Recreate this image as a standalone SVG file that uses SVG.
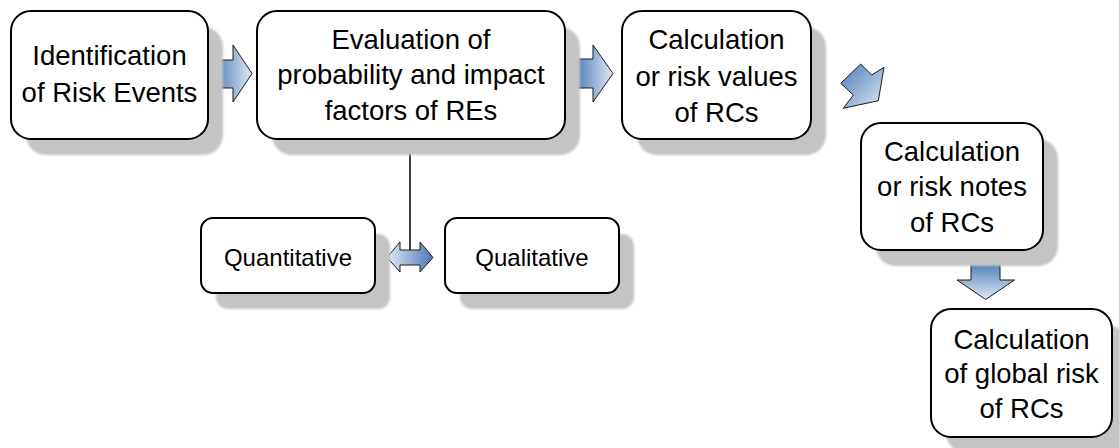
<svg xmlns="http://www.w3.org/2000/svg" width="1119" height="448" viewBox="0 0 1119 448">
<style>
.box{fill:#ffffff;stroke:#000000;stroke-width:2}
.sh{fill:#c4c4c4;filter:url(#blur)}
.t{font-family:"Liberation Sans",Arial,sans-serif;font-size:27.5px;fill:#000000;text-anchor:middle}
.ts{font-family:"Liberation Sans",Arial,sans-serif;font-size:24px;fill:#000000;text-anchor:middle}
.arr{stroke:#1a1a1a;stroke-width:1;stroke-linejoin:miter}
</style>
<defs>
<filter id="blur" x="-10%" y="-10%" width="120%" height="120%"><feGaussianBlur stdDeviation="1.2"/></filter>
<linearGradient id="gH" x1="0" y1="0" x2="1" y2="0"><stop offset="0" stop-color="#4a7ab8"/><stop offset="1" stop-color="#e0e9f4"/></linearGradient>
<linearGradient id="gV" x1="0" y1="0" x2="0" y2="1"><stop offset="0" stop-color="#4a7ab8"/><stop offset="1" stop-color="#e0e9f4"/></linearGradient>
<linearGradient id="gD" x1="0" y1="0" x2="1" y2="1"><stop offset="0" stop-color="#4a7ab8"/><stop offset="1" stop-color="#e0e9f4"/></linearGradient>
<linearGradient id="gR" x1="0" y1="0" x2="1" y2="0"><stop offset="0" stop-color="#e0e9f4"/><stop offset="1" stop-color="#4a7ab8"/></linearGradient>
</defs>

<g id="connectors">
<line x1="410" y1="139" x2="410" y2="250" stroke="#000000" stroke-width="1.5"/>
<polygon class="arr" fill="url(#gH)" points="214,60 233,60 233,45 252,73.5 233,102 233,88 214,88"/>
<polygon class="arr" fill="url(#gH)" points="575,59 593,59 593,45 613,73.5 593,102 593,88 575,88"/>
<polygon class="arr" fill="url(#gD)" points="840.7,83.3 860.7,64 871.7,75 884,67.3 878.3,100.7 843.3,108.3 853.3,95"/>
<polygon class="arr" fill="url(#gV)" points="971,262 1000,262 1000,280 1014.5,280 985.7,299.5 957,280 971,280"/>
<polygon class="arr" fill="url(#gR)" points="387,257.5 400,242 400,250 420,250 420,242 433,257.5 420,272 420,265 400,265 400,272"/>
</g>

<g id="n1">
<rect class="sh" x="26" y="27" width="197" height="128" rx="20"/>
<rect class="box" x="11" y="11" width="197" height="128" rx="20"/>
<text class="t" x="109.5" y="65">Identification</text>
<text class="t" x="109.5" y="102">of Risk Events</text>
</g>

<g id="n2">
<rect class="sh" x="272" y="27" width="308" height="128" rx="20"/>
<rect class="box" x="257" y="11" width="308" height="128" rx="20"/>
<text class="t" x="411" y="49">Evaluation of</text>
<text class="t" x="411" y="84">probability and impact</text>
<text class="t" x="411" y="120">factors of REs</text>
</g>

<g id="n3">
<rect class="sh" x="637" y="27" width="189" height="128" rx="20"/>
<rect class="box" x="622" y="11" width="189" height="128" rx="20"/>
<text class="t" x="716.5" y="49">Calculation</text>
<text class="t" x="716.5" y="86">or risk values</text>
<text class="t" x="716.5" y="122">of RCs</text>
</g>

<g id="n4">
<rect class="sh" x="876" y="139" width="182" height="127" rx="20"/>
<rect class="box" x="861" y="123" width="182" height="127" rx="20"/>
<text class="t" x="952" y="161">Calculation</text>
<text class="t" x="952" y="196">or risk notes</text>
<text class="t" x="952" y="232">of RCs</text>
</g>

<g id="n5">
<rect class="sh" x="946" y="325" width="181" height="128" rx="20"/>
<rect class="box" x="931" y="309" width="181" height="128" rx="20"/>
<text class="t" x="1021.5" y="349">Calculation</text>
<text class="t" x="1021.5" y="383">of global risk</text>
<text class="t" x="1021.5" y="418">of RCs</text>
</g>

<g id="n6">
<rect class="sh" x="216" y="234" width="174" height="75" rx="12"/>
<rect class="box" x="201" y="218" width="174" height="75" rx="12"/>
<text class="ts" x="288" y="266">Quantitative</text>
</g>

<g id="n7">
<rect class="sh" x="460" y="234" width="174" height="75" rx="12"/>
<rect class="box" x="445" y="218" width="174" height="75" rx="12"/>
<text class="ts" x="532" y="266">Qualitative</text>
</g>
</svg>
